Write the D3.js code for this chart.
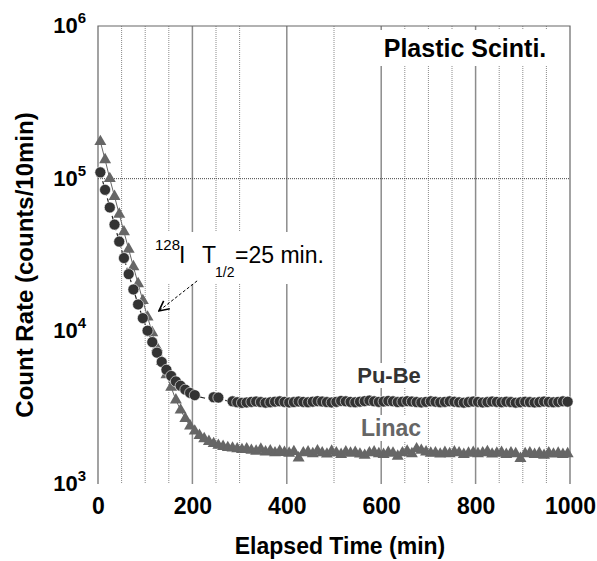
<!DOCTYPE html>
<html>
<head>
<meta charset="utf-8">
<script src="https://cdn.jsdelivr.net/npm/d3@7"></script>
<style>
  body { margin: 0; background: #fff; }
  svg { display: block; font-family: "Liberation Sans", Arial, Helvetica, sans-serif; }
</style>
</head>
<body>
<svg></svg>
<script>
// elapsed time, middle of each 10 min counting bin
const times = [
  5, 15, 25, 35, 45, 55, 65, 75, 85, 95,
  105, 115, 125, 135, 145, 155, 165, 175, 185, 195,
  205, 215, 225, 235, 245, 255, 265, 275, 285, 295,
  305, 315, 325, 335, 345, 355, 365, 375, 385, 395,
  405, 415, 425, 435, 445, 455, 465, 475, 485, 495,
  505, 515, 525, 535, 545, 555, 565, 575, 585, 595,
  605, 615, 625, 635, 645, 655, 665, 675, 685, 695,
  705, 715, 725, 735, 745, 755, 765, 775, 785, 795,
  805, 815, 825, 835, 845, 855, 865, 875, 885, 895,
  905, 915, 925, 935, 945, 955, 965, 975, 985, 995
]

const puBeRate = [
  110000, 84500, 64800, 50000, 38700, 30200, 23700, 18800, 15000, 12200,
  10100, 8500, 7250, 6300, 5600, 5100, 4700, 4400, 4150, 3950,
  3820, 3720, 3660, 3620, 3700, 3680, 3560, 3500, 3480, 3430,
  3400, 3420, 3450, 3470, 3440, 3410, 3430, 3460, 3480, 3450,
  3420, 3440, 3470, 3450, 3430, 3460, 3490, 3470, 3440, 3420,
  3450, 3500, 3480, 3450, 3430, 3460, 3490, 3520, 3480, 3450,
  3470, 3500, 3480, 3440, 3460, 3490, 3470, 3440, 3420, 3450,
  3480, 3460, 3430, 3450, 3480, 3460, 3430, 3410, 3440, 3470,
  3450, 3420, 3440, 3470, 3450, 3430, 3460, 3440, 3410, 3430,
  3460, 3440, 3420, 3440, 3470, 3450, 3430, 3450, 3480, 3460
]
// bins where no Pu-Be marker shows, only the line
const puBeNoMarker = [215, 225, 235, 265, 275]

const linacRate = [
  175000, 133000, 100000, 76500, 58500, 44800, 34500, 26500, 20500, 15900,
  12400, 9800, 7800, 6350, 5200, 4300, 3550, 3050, 2680, 2400,
  2220, 2080, 1980, 1900, 1840, 1790, 1760, 1730, 1720, 1700,
  1680, 1700, 1660, 1640, 1690, 1620, 1650, 1600, 1640, 1610,
  1590, 1630, 1480, 1600, 1620, 1580, 1650, 1600, 1570, 1640,
  1600, 1560, 1620, 1590, 1610, 1570, 1540, 1600, 1620, 1580,
  1560, 1610, 1590, 1520, 1600, 1640, 1580, 1700, 1660, 1620,
  1590, 1600, 1570, 1610, 1580, 1620, 1600, 1560, 1590, 1610,
  1580, 1600, 1630, 1570, 1590, 1610, 1560, 1600, 1580, 1470,
  1580, 1600, 1560, 1590, 1540, 1600, 1570, 1590, 1560, 1580
]

const xTicks = [0, 200, 400, 600, 800, 1000]
const xMajorGrid = [200, 400, 600, 800]
const xMinorGrid = [50, 100, 150, 250, 300, 500, 650, 700, 750, 850, 900, 950]
const yTickExp = [3, 4, 5, 6]
const yGrid = [1e5]

// arrow of the half-life note, in data units [time, rate]
const arrowFrom = [210, 21400]
const arrowTo = [129, 13600]

const width = 597
const height = 561
const padLeft = 98, padRight = 570, padTop = 26, padBottom = 484
const font = '"Liberation Sans", Arial, Helvetica, sans-serif'

const svg = d3.select('svg').attr('width', width).attr('height', height)

const x = d3.scaleLinear().domain([0, 1000]).range([padLeft, padRight])
const y = d3.scaleLog().domain([1e3, 1e6]).range([padBottom, padTop])

// grid
svg.append('g').selectAll('line')
    .data(xMinorGrid)
    .enter().append('line')
    .attr('x1', d => x(d)).attr('x2', d => x(d))
    .attr('y1', padTop).attr('y2', padBottom)
    .attr('stroke', '#8a8a8a').attr('stroke-width', 1)
    .attr('stroke-dasharray', '1,1')

svg.append('g').selectAll('line')
    .data(xMajorGrid)
    .enter().append('line')
    .attr('x1', d => x(d)).attr('x2', d => x(d))
    .attr('y1', padTop).attr('y2', padBottom)
    .attr('stroke', '#8c8c8c').attr('stroke-width', 1.5)

svg.append('g').selectAll('line')
    .data(yGrid)
    .enter().append('line')
    .attr('x1', padLeft).attr('x2', padRight)
    .attr('y1', d => y(d)).attr('y2', d => y(d))
    .attr('stroke', '#444').attr('stroke-width', 1)
    .attr('stroke-dasharray', '1,1')

// frame: left, top, right (no bottom line)
svg.append('path')
    .attr('d', 'M' + padLeft + ',' + padBottom + 'V' + padTop + 'H' + padRight + 'V' + padBottom)
    .attr('fill', 'none').attr('stroke', '#666').attr('stroke-width', 1.2)

// x axis labels
let xAxis = d3.axisBottom(x).tickValues(xTicks).tickSize(0).tickPadding(14).tickFormat(d3.format('d'))
let gx = svg.append('g')
    .attr('transform', 'translate(0,' + padBottom + ')')
    .call(xAxis)
gx.select('.domain').remove()
gx.selectAll('text')
    .attr('font-family', font).attr('font-size', 23).attr('font-weight', 'bold').attr('fill', '#000')

// y axis labels 10^n
let yl = svg.append('g').selectAll('text')
    .data(yTickExp)
    .enter().append('text')
    .attr('x', 86)
    .attr('y', d => y(Math.pow(10, d)) + 7)
    .attr('text-anchor', 'end')
    .attr('font-family', font).attr('font-size', 22).attr('font-weight', 'bold')
yl.append('tspan').text('10')
yl.append('tspan').attr('dy', -10).attr('font-size', 15).text(d => d)

// axis titles
svg.append('text')
    .attr('x', 340).attr('y', 554)
    .attr('text-anchor', 'middle')
    .attr('font-family', font).attr('font-size', 23).attr('font-weight', 'bold')
    .text('Elapsed Time (min)')

svg.append('text')
    .attr('transform', 'translate(33,265) rotate(-90)')
    .attr('text-anchor', 'middle')
    .attr('font-family', font).attr('font-size', 24).attr('font-weight', 'bold')
    .text('Count Rate (counts/10min)')

// text with white box behind it
let boxedText = (g, pad) => {
    let b = g.node().getBBox()
    g.insert('rect', ':first-child')
        .attr('x', b.x - pad[0]).attr('y', b.y - pad[1])
        .attr('width', b.width + 2 * pad[0]).attr('height', b.height + 2 * pad[1])
        .attr('fill', '#fff')
}

let title = svg.append('g')
title.append('text')
    .attr('x', 465).attr('y', 57)
    .attr('text-anchor', 'middle')
    .attr('font-family', font).attr('font-size', 25).attr('font-weight', 'bold')
    .text('Plastic Scinti.')
boxedText(title, [6, 4])

// lines through the data
let pts = (vals) => times.map((t, i) => [t, vals[i]])
let line = d3.line().x(d => x(d[0])).y(d => y(d[1]))

svg.append('path')
    .datum(pts(linacRate))
    .attr('d', line)
    .attr('fill', 'none').attr('stroke', '#666').attr('stroke-width', 1)

svg.append('path')
    .datum(pts(puBeRate))
    .attr('d', line)
    .attr('fill', 'none').attr('stroke', '#222').attr('stroke-width', 1.2)
    .attr('stroke-dasharray', '6,3')

// Linac triangles
let tri = d3.symbol().type(d3.symbolTriangle).size(62)
svg.append('g').selectAll('path')
    .data(pts(linacRate))
    .enter().append('path')
    .attr('d', tri)
    .attr('transform', d => 'translate(' + x(d[0]) + ',' + y(d[1]) + ')')
    .attr('fill', '#666')

// Pu-Be circles
svg.append('g').selectAll('circle')
    .data(pts(puBeRate).filter(d => !puBeNoMarker.includes(d[0])))
    .enter().append('circle')
    .attr('cx', d => x(d[0]))
    .attr('cy', d => y(d[1]))
    .attr('r', 5.5)
    .attr('fill', '#333')
    .attr('stroke', '#fff').attr('stroke-width', 0.6)

// series names
let pubeLabel = svg.append('g')
pubeLabel.append('text')
    .attr('x', 389).attr('y', 383)
    .attr('text-anchor', 'middle')
    .attr('font-family', font).attr('font-size', 22).attr('font-weight', 'bold')
    .attr('fill', '#333')
    .text('Pu-Be')
boxedText(pubeLabel, [1, 0])

let linacLabel = svg.append('g')
linacLabel.append('text')
    .attr('x', 391).attr('y', 436)
    .attr('text-anchor', 'middle')
    .attr('font-family', font).attr('font-size', 23).attr('font-weight', 'bold')
    .attr('fill', '#666')
    .text('Linac')
boxedText(linacLabel, [1, 0])

// half-life note
let note = svg.append('g')
let nt = note.append('text')
    .attr('font-family', font).attr('font-size', 23).attr('fill', '#000')
nt.append('tspan').attr('x', 155).attr('y', 250).attr('font-size', 15).text('128')
nt.append('tspan').attr('x', 179).attr('y', 263).text('I')
nt.append('tspan').attr('x', 202).attr('y', 263).text('T')
nt.append('tspan').attr('x', 215).attr('y', 277).attr('font-size', 14).text('1/2')
nt.append('tspan').attr('x', 235).attr('y', 263).text('=25 min.')
boxedText(note, [5, 4])

svg.append('defs').append('marker')
    .attr('id', 'head')
    .attr('viewBox', '0 0 12 12')
    .attr('refX', 11).attr('refY', 6)
    .attr('markerWidth', 12).attr('markerHeight', 12)
    .attr('markerUnits', 'userSpaceOnUse')
    .attr('orient', 'auto')
    .append('path')
    .attr('d', 'M1,1 L11,6 L1,11')
    .attr('fill', 'none').attr('stroke', '#000').attr('stroke-width', 1.6)

svg.append('line')
    .attr('x1', x(arrowFrom[0])).attr('y1', y(arrowFrom[1]))
    .attr('x2', x(arrowTo[0])).attr('y2', y(arrowTo[1]))
    .attr('stroke', '#000').attr('stroke-width', 1)
    .attr('stroke-dasharray', '3,2')
    .attr('marker-end', 'url(#head)')
</script>
</body>
</html>
